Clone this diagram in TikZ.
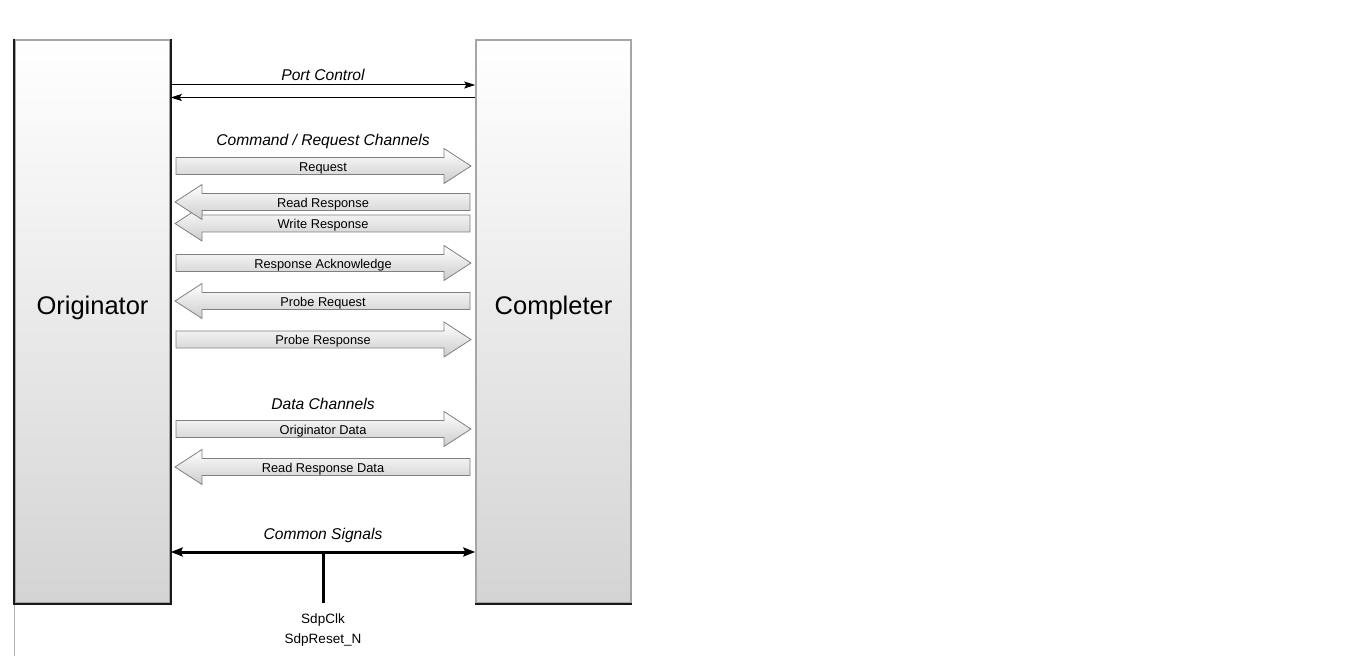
\documentclass[tikz,border=0pt]{standalone}
\usepackage{fontspec}
\setmainfont{Liberation Sans}
\usetikzlibrary{arrows.meta}
\tikzset{
  box/.style={rectangle, draw=black!35, line width=1.5pt, top color=white, bottom color=black!17, minimum width=155pt, minimum height=563pt, inner sep=0pt},
  boxlbl/.style={font=\fontsize{25.5}{28}\selectfont, inner sep=0pt},
  blockarrow/.style={draw=black!50, line width=0.8pt, top color=white, bottom color=black!20},
  lbl/.style={font=\fontsize{12.8}{14}\selectfont, inner sep=0pt},
  head/.style={font=\fontsize{15.6}{18}\selectfont\itshape, inner sep=0pt},
  sig/.style={font=\fontsize{13.5}{16}\selectfont, inner sep=0pt},
  thin/.style={line width=1pt, -{Stealth[length=11pt,width=7pt,inset=2pt]}},
  thick/.style={line width=3pt, {Stealth[length=12pt,width=9pt,inset=2pt]}-{Stealth[length=12pt,width=9pt,inset=2pt]}}
}
\newcommand{\rarr}[2]{%
  \path[blockarrow] (176,#1-8.5) -- (444,#1-8.5) -- (444,#1-17.5) -- (471,#1) -- (444,#1+17.5) -- (444,#1+8.5) -- (176,#1+8.5) -- cycle;
  \node[lbl] at (323,#1+2) {#2};}
\newcommand{\larr}[2]{%
  \path[blockarrow] (470,#1-8.5) -- (202,#1-8.5) -- (202,#1-17.5) -- (175,#1) -- (202,#1+17.5) -- (202,#1+8.5) -- (470,#1+8.5) -- cycle;
  \node[lbl] at (323,#1+2) {#2};}
\begin{document}
\begin{tikzpicture}[x=1pt,y=-1pt]
\useasboundingbox (0,0) rectangle (1369,660);
\fill[white] (0,0) rectangle (1369,660);
\draw[black!30, line width=1pt] (14,40) -- (14,656);
% boxes
\node[box] (orig) at (92.5,321.5) {};
\node[box] (comp) at (553.5,321.5) {};
\node[boxlbl] (origl) at (92.5,308) {Originator};
\node[boxlbl] (compl) at (553.5,308) {Completer};
\draw[line width=2pt, black!90] (orig.north west) -- (orig.south west) -- (orig.south east) -- (orig.north east);
\draw[line width=2pt, black!90] (comp.south west) -- (comp.south east);
% port control
\node[head] (pc) at (323,75) {Port Control};
\draw[thin] (orig.east |- 0,85) -- (comp.west |- 0,85);
\draw[thin] (comp.west |- 0,97.5) -- (orig.east |- 0,97.5);
% command / request
\node[head] (crc) at (323,141.5) {Command / Request Channels};
\rarr{166}{Request}
\larr{223.5}{Write Response}
\larr{202}{Read Response}
\rarr{263}{Response Acknowledge}
\larr{301}{Probe Request}
\rarr{339.5}{Probe Response}
% data
\node[head] (dc) at (323,404) {Data Channels};
\rarr{429}{Originator Data}
\larr{467}{Read Response Data}
% common
\node[head] (cs) at (323,535) {Common Signals};
\draw[thick] (orig.east |- 0,552) -- (comp.west |- 0,552);
\coordinate (tap) at (323,552);
\node[sig, align=center, anchor=north] (clk) at (323,614) {SdpClk\\[4pt]SdpReset\_N};
\draw[line width=3pt] (tap) -- (323,603);
\end{tikzpicture}
\end{document}
